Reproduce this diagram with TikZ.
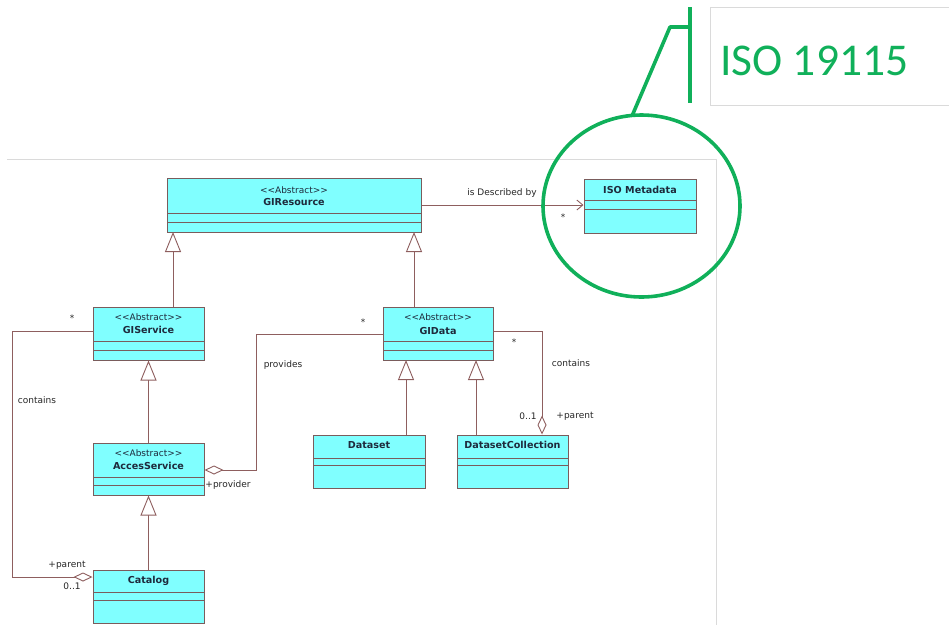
\documentclass[tikz,border=0pt]{standalone}
\usepackage{fontspec}
\setmainfont{DejaVu Sans}
\newfontfamily\isofont{Carlito}
\usetikzlibrary{arrows.meta,calc,shapes.geometric}
\definecolor{clsfill}{HTML}{80FFFF}
\definecolor{clsdraw}{HTML}{7A5C5C}
\definecolor{conn}{HTML}{8E5E5E}
\definecolor{isogreen}{HTML}{10B05A}
\definecolor{framegray}{HTML}{DADADA}
\definecolor{titlecol}{HTML}{1E2A3C}
\newcommand\umlcls[7]{%
  \node[cls, minimum width={(#4)-(#2)}, minimum height={(#5)-(#3)}] (#1) at ({((#2)+(#4))/2},{((#3)+(#5))/2}) {};
  \draw[clsdraw, line width=0.9pt] (#2,#6) -- (#4,#6) (#2,#7) -- (#4,#7);
}
\newcommand\abst{\textless\kern0pt\textless\kern0pt Abstract\kern0pt\textgreater\kern0pt\textgreater}
\begin{document}
\begin{tikzpicture}[x=1pt,y=-1pt,
  cls/.style={rectangle, draw=clsdraw, fill=clsfill, line width=1pt, inner sep=0pt},
  lbl/.style={font=\fontsize{9}{10}\selectfont, text=black!85, inner sep=0pt},
  ster/.style={font=\fontsize{9}{10}\selectfont, text=titlecol, inner sep=0pt},
  ttl/.style={font=\fontsize{9.6}{11}\selectfont\bfseries, text=titlecol, inner sep=0pt},
  gen/.style={draw=conn, line width=0.9pt, -{Triangle[open, length=20pt, width=16pt, fill=white]}},
  agg/.style={draw=conn, line width=0.9pt, {Diamond[open, length=19pt, width=9pt, fill=white]}-},
  assoc/.style={draw=conn, line width=0.9pt, -{Straight Barb[length=6pt, width=10pt]}},
  grn/.style={draw=isogreen, line width=3.6pt}
]
\useasboundingbox (0,0) rectangle (949,625);
% frames
\draw[framegray, line width=1pt] (7,159) -- (716,159) -- (716,625);
\draw[framegray, line width=1pt] (949,7) -- (710,7) -- (710,105) -- (949,105);
\node[font=\isofont\fontsize{45.5}{50}\selectfont, text=isogreen, anchor=base west, inner sep=0pt] (isotext) at (720,75) {ISO 19115};

% classes
\umlcls{gir}{167}{178}{421}{232}{213}{222}
\umlcls{iso}{584}{179}{696}{233}{200}{209}
\umlcls{gis}{93}{307}{204}{360}{341}{350}
\umlcls{acc}{93}{443}{204}{495}{477}{485}
\umlcls{cat}{93}{570}{204}{623}{592}{600}
\umlcls{gid}{383}{307}{493}{360}{341}{350}
\umlcls{ds}{313}{435}{425}{488}{458}{465}
\umlcls{dsc}{457}{435}{568}{488}{458}{465}

% titles
\node[ster] (girS) at (294,190) {\abst};
\node[ttl] (girT) at (294,202) {GIResource};
\node[ttl] (isoT) at (640,190) {ISO Metadata};
\node[ster] (gisS) at (148.5,317) {\abst};
\node[ttl] (gisT) at (148.5,330) {GIService};
\node[ster] (accS) at (148.5,453) {\abst};
\node[ttl] (accT) at (148.5,466) {AccesService};
\node[ttl] (catT) at (148.5,581) {Catalog};
\node[ster] (gidS) at (438,317) {\abst};
\node[ttl] (gidT) at (438,331) {GIData};
\node[ttl] (dsT) at (369,445) {Dataset};
\node[ttl] (dscT) at (512.5,445) {DatasetCollection};

% helper coordinates
\coordinate (g1) at (173,232);
\coordinate (g2) at (414,232);
\coordinate (g3) at (406,360);
\coordinate (g4) at (476,360);
\coordinate (c1) at (12,331);
\coordinate (c2) at (12,577);
\coordinate (p1) at (256,334);
\coordinate (p2) at (256,470);
\coordinate (q1) at (542,331);

% generalizations
\draw[gen] (gis.north -| g1) -- (g1);
\draw[gen] (gid.north -| g2) -- (g2);
\draw[gen] (acc.north) -- (gis.south);
\draw[gen] (cat.north) -- (acc.south);
\draw[gen] (ds.north -| g3) -- (g3);
\draw[gen] (dsc.north -| g4) -- (g4);

% associations
\draw[assoc] (gir.east) -- (gir.east -| iso.west);
\draw[agg] (cat.west |- c2) -- (c2) -- (c1) -- (gis.west |- c1);
\draw[agg] (acc.east |- p2) -- (p2) -- (p1) -- (gid.west |- p1);
\draw[agg] (dsc.north -| q1) -- (q1) -- (gid.east |- q1);

% labels
\node[lbl] (l1) at (502,193) {is Described by};
\node[lbl] (l2) at (563,217) {*};
\node[lbl] (l3) at (72,318) {*};
\node[lbl] (l4) at (37,400) {contains};
\node[lbl] (l5) at (283,365) {provides};
\node[lbl] (l6) at (228,485) {+provider};
\node[lbl] (l7) at (67,565) {+parent};
\node[lbl] (l8) at (72,586) {0..1};
\node[lbl] (l9) at (363,322) {*};
\node[lbl] (l10) at (514,342) {*};
\node[lbl] (l11) at (571,363) {contains};
\node[lbl] (l12) at (528,416) {0..1};
\node[lbl] (l13) at (575,416) {+parent};

% green callout
\node[grn, ellipse, minimum width=197pt, minimum height=182pt, inner sep=0pt] (zoomc) at (641.5,206) {};
\draw[grn] (690,7) -- (690,103);
\coordinate (k1) at (690,27);
\coordinate (k2) at (670,27);
\coordinate (k3) at (632,116);
\draw[grn, line join=round] (k1) -- (k2) -- (k3);
\end{tikzpicture}
\end{document}
